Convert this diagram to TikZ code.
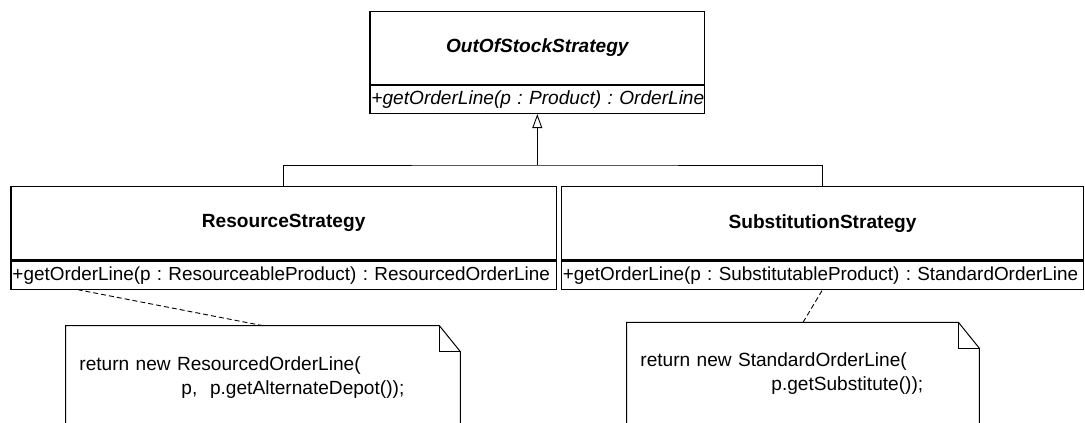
\documentclass[tikz,border=0pt]{standalone}
\usepackage{fontspec}
\setmainfont{Liberation Sans}
\usetikzlibrary{positioning,arrows.meta}
\begin{document}
\begin{tikzpicture}[x=1pt, y=-1pt, font=\fontsize{19.1}{24}\selectfont\frenchspacing,
		classname/.style={draw, line width=1.2pt, inner sep=0pt, font=\fontsize{19.1}{24}\selectfont\bfseries},
		classop/.style={draw, line width=1.2pt, minimum height=28pt, inner xsep=1.5pt, inner ysep=0pt, align=left, font=\fontsize{18.9}{24}\selectfont\frenchspacing},
		umlnote/.style={inner xsep=13.5pt, inner ysep=0pt, align=left, anchor=north west},
		notefr/.style={line width=1pt},
		gen/.style={line width=0.9pt},
		realize/.style={line width=0.9pt, dash pattern=on 5pt off 3pt}]
		\clip (0,0) rectangle (1085,423);
		\node[classname, minimum width=334.7pt, minimum height=72.6pt, font=\fontsize{19.1}{24}\selectfont\bfseries\itshape] (oss) at (537.3,48) {OutOfStockStrategy};
		\node[classop, text width=331.7pt, below=0pt of oss, font=\fontsize{19.1}{24}\selectfont\itshape\frenchspacing] (ossop) {\mbox{+getOrderLine(p : Product) : OrderLine}};
		\node[classname, minimum width=545.3pt, minimum height=73.3pt] (rs) at (283.65,223.35) {ResourceStrategy};
		\node[classop, text width=542.3pt, below=0pt of rs] (rsop) {\mbox{+getOrderLine(p : ResourceableProduct) : ResourcedOrderLine}};
		\node[classname, minimum width=522.4pt, minimum height=73.3pt] (ss) at (822.5,223.35) {SubstitutionStrategy};
		\node[classop, text width=519.4pt, below=0pt of ss] (ssop) {\mbox{+getOrderLine(p : SubstitutableProduct) : StandardOrderLine}};
		\node[umlnote, text width=367.3pt, minimum height=103.6pt] (n1) at (65.7,325.7) {return new ResourcedOrderLine(\\\hspace*{102pt}p,\ \ p.getAlternateDepot());};
		\node[umlnote, text width=325.3pt, minimum height=102pt] (n2) at (626.7,322.3) {return new StandardOrderLine(\\\hspace*{131pt}p.getSubstitute());};
		\foreach \n in {n1,n2} {
			\draw[notefr] (\n.south west) -- (\n.north west) -- ([xshift=-21pt]\n.north east) -- ([yshift=-26pt]\n.north east) -- (\n.south east);
			\draw[notefr] ([xshift=-21pt]\n.north east) |- ([yshift=-26pt]\n.north east);
		}
		\coordinate (bar) at (537.3,165);
		\draw[gen] (rs.north) |- (bar) -| (ss.north);
		\draw[gen, -{Triangle[open, length=14pt, width=10pt]}] (bar) -- (ossop.south);
		\draw[realize] (n1.north) -- ([xshift=68pt]rsop.south west);
		\draw[realize] (n2.north) -- (ssop.south);
	\end{tikzpicture}
\end{document}
